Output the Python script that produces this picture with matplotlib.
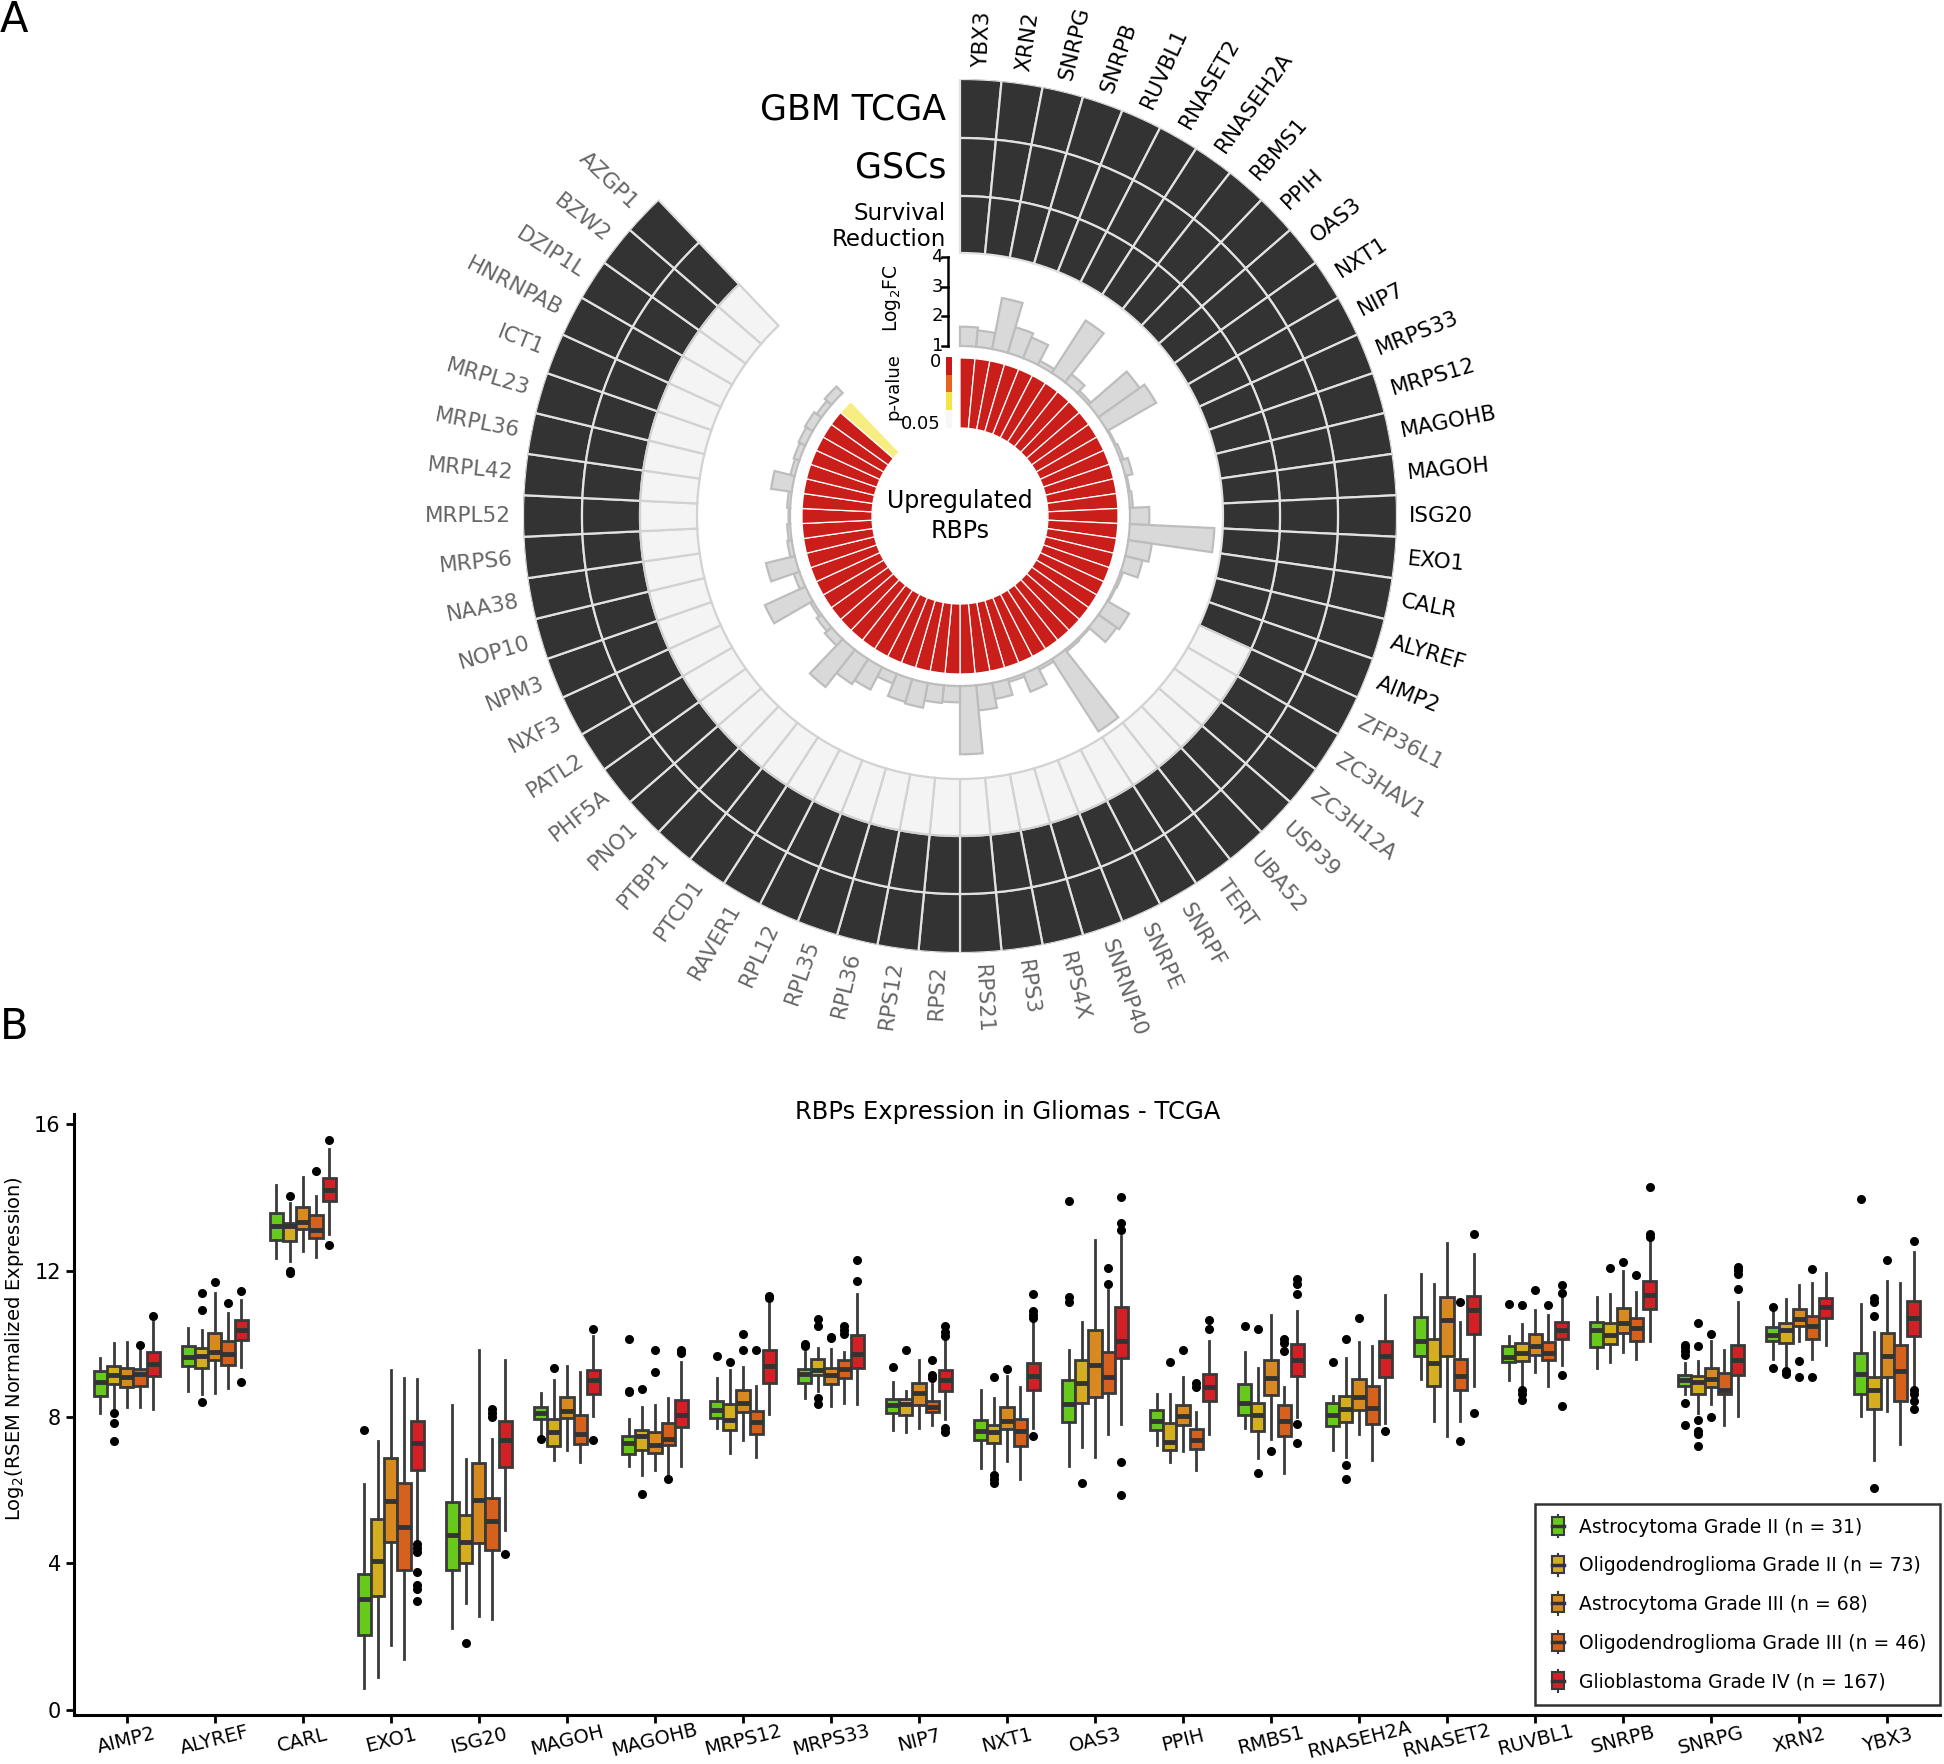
import numpy as np
import matplotlib
matplotlib.use('Agg')
import matplotlib.pyplot as plt
from matplotlib.colors import LinearSegmentedColormap, ListedColormap
from matplotlib.patches import Rectangle, Patch
from matplotlib.lines import Line2D
from matplotlib.legend_handler import HandlerBase
from matplotlib.transforms import blended_transform_factory

plt.rcParams['font.family'] = ['DejaVu Sans']

# ---------------- panel A data ----------------
ring_genes = ['YBX3', 'XRN2', 'SNRPG', 'SNRPB', 'RUVBL1', 'RNASET2', 'RNASEH2A', 'RBMS1',
              'PPIH', 'OAS3', 'NXT1', 'NIP7', 'MRPS33', 'MRPS12', 'MAGOHB', 'MAGOH',
              'ISG20', 'EXO1', 'CALR', 'ALYREF', 'AIMP2',
              'ZFP36L1', 'ZC3HAV1', 'ZC3H12A', 'USP39', 'UBA52', 'TERT', 'SNRPF', 'SNRPE',
              'SNRNP40', 'RPS4X', 'RPS3', 'RPS21', 'RPS2', 'RPS12', 'RPL36', 'RPL35', 'RPL12',
              'RAVER1', 'PTCD1', 'PTBP1', 'PNO1', 'PHF5A', 'PATL2', 'NXF3', 'NPM3', 'NOP10',
              'NAA38', 'MRPS6', 'MRPL52', 'MRPL42', 'MRPL36', 'MRPL23', 'ICT1', 'HNRNPAB',
              'DZIP1L', 'BZW2', 'AZGP1']
# 1 = survival reduction, 0 = not
survival = [1] * 21 + [0] * 37
log2fc = [1.65, 1.55, 2.75, 1.9, 1.75, 1.15, 3.1, 1.35, 1.1, 2.7, 2.9, 1.05, 1.1, 1.25,
          1.05, 1.1, 1.65, 3.85, 1.8, 1.6, 1.08, 1.05, 1.85, 1.75, 1.05, 1.08, 3.9, 1.1,
          1.65, 1.1, 1.55, 1.85, 3.3, 1.55, 1.6, 1.85, 1.8, 1.35, 1.85, 2.0, 2.6, 1.3, 1.2,
          1.1, 2.5, 1.2, 2.0, 1.15, 1.1, 1.05, 1.1, 1.7, 1.15, 1.2, 1.25, 1.3, 1.2, 1.3]
pvalues = [0.001] * 57 + [0.038]

# ---------------- panel B data ----------------
genes_b = ['AIMP2', 'ALYREF', 'CARL', 'EXO1', 'ISG20', 'MAGOH', 'MAGOHB', 'MRPS12', 'MRPS33',
           'NIP7', 'NXT1', 'OAS3', 'PPIH', 'RMBS1', 'RNASEH2A', 'RNASET2', 'RUVBL1',
           'SNRPB', 'SNRPG', 'XRN2', 'YBX3']
group_names = ['Astrocytoma Grade II (n = 31)', 'Oligodendroglioma Grade II (n = 73)',
               'Astrocytoma Grade III (n = 68)', 'Oligodendroglioma Grade III (n = 46)',
               'Glioblastoma Grade IV (n = 167)']
group_colors = ['#66c91c', '#d4ae1e', '#d88a20', '#d6611d', '#d42024']

# (whisker low, q1, median, q3, whisker high) per gene
astro2_box = [(8.12, 8.58, 8.95, 9.25, 9.62), (8.72, 9.40, 9.64, 9.93, 10.42),
              (12.35, 12.84, 13.23, 13.58, 14.33), (0.59, 2.04, 3.04, 3.71, 6.17),
              (2.23, 3.82, 4.77, 5.69, 8.33), (7.55, 7.94, 8.10, 8.28, 8.66),
              (6.66, 7.00, 7.28, 7.47, 7.94), (7.69, 7.97, 8.19, 8.45, 9.06),
              (8.51, 8.92, 9.18, 9.31, 9.78), (7.64, 8.12, 8.33, 8.49, 8.95),
              (6.61, 7.38, 7.61, 7.92, 8.73), (6.66, 7.86, 8.36, 9.00, 9.84),
              (7.25, 7.64, 7.89, 8.19, 8.64), (7.71, 8.06, 8.38, 8.89, 9.78),
              (7.10, 7.75, 8.05, 8.39, 8.58), (9.03, 9.67, 10.09, 10.74, 11.91),
              (9.01, 9.50, 9.64, 9.94, 10.22), (9.34, 9.92, 10.37, 10.61, 11.29),
              (8.62, 8.86, 9.00, 9.16, 9.48), (9.59, 10.07, 10.23, 10.45, 10.87),
              (8.03, 8.64, 9.18, 9.75, 11.09)]
astro2_fliers = [[], [], [], [7.66], [], [7.41], [10.12, 8.72, 8.68], [9.67], [10.0, 9.95],
                 [9.36], [], [13.90, 11.28, 11.13], [], [10.48], [9.50], [], [11.09], [],
                 [9.98, 9.92, 9.81, 9.70, 8.39, 7.78], [11.01, 9.33], [13.97]]

oligo2_box = [(8.25, 8.90, 9.14, 9.40, 10.03), (8.62, 9.34, 9.68, 9.90, 10.39),
              (12.26, 12.82, 13.21, 13.29, 13.86), (0.91, 3.12, 4.07, 5.22, 7.34),
              (2.93, 4.01, 4.60, 5.32, 6.86), (6.83, 7.22, 7.58, 7.94, 9.01),
              (6.41, 7.11, 7.47, 7.64, 8.27), (7.02, 7.66, 7.92, 8.36, 9.29),
              (8.70, 9.16, 9.28, 9.59, 9.89), (7.58, 8.06, 8.36, 8.49, 8.72),
              (6.58, 7.28, 7.58, 7.78, 8.53), (7.19, 8.39, 8.94, 9.57, 10.59),
              (6.77, 7.10, 7.32, 7.84, 8.62), (6.88, 7.61, 8.05, 8.39, 9.34),
              (6.91, 7.86, 8.23, 8.58, 9.61), (7.89, 8.84, 9.48, 10.14, 11.63),
              (8.81, 9.53, 9.75, 10.01, 10.54), (9.51, 10.00, 10.23, 10.56, 11.37),
              (8.10, 8.64, 8.97, 9.11, 9.53), (9.36, 10.01, 10.37, 10.56, 11.23),
              (6.82, 8.23, 8.73, 9.09, 10.33)]
oligo2_fliers = [[8.10, 7.84, 7.35], [11.40, 10.93, 8.42], [14.05, 11.98, 11.93], [], [1.84],
                 [9.34], [8.77, 5.91], [9.50], [10.67, 10.50, 8.53, 8.36], [9.83],
                 [9.09, 6.43, 6.32, 6.21], [6.21], [9.51], [10.40, 6.47], [10.12, 6.69, 6.32],
                 [], [11.06, 8.73, 8.64, 8.47], [12.07], [10.56, 9.94, 7.92, 7.61, 7.53, 7.22],
                 [9.25, 9.18], [11.26, 11.13, 10.76, 6.05]]

astro3_box = [(8.27, 8.83, 9.09, 9.33, 10.06), (8.66, 9.55, 9.79, 10.31, 11.39),
              (12.54, 13.15, 13.34, 13.73, 14.55), (1.78, 4.59, 5.72, 6.88, 9.28),
              (2.56, 4.55, 5.74, 6.74, 9.83), (7.10, 7.97, 8.17, 8.56, 9.39),
              (6.56, 7.02, 7.25, 7.58, 8.33), (7.38, 8.14, 8.39, 8.73, 9.36),
              (8.31, 8.90, 9.16, 9.34, 9.87), (7.69, 8.34, 8.66, 8.92, 9.57),
              (6.80, 7.67, 7.88, 8.27, 9.11), (6.91, 8.56, 9.42, 10.39, 12.84),
              (7.08, 7.78, 8.03, 8.33, 9.09), (7.39, 8.61, 9.06, 9.57, 10.79),
              (7.55, 8.19, 8.55, 9.05, 10.06), (7.49, 9.68, 10.65, 11.29, 12.76),
              (9.23, 9.70, 9.94, 10.28, 10.93), (9.79, 10.31, 10.56, 10.98, 11.98),
              (8.36, 8.81, 9.03, 9.34, 10.09), (10.09, 10.48, 10.68, 10.95, 11.62),
              (8.17, 9.09, 9.67, 10.31, 11.73)]
astro3_fliers = [[], [11.68], [], [], [], [], [9.82, 9.24], [10.28, 9.83], [10.20, 10.15], [],
                 [9.31], [], [9.83], [7.06], [10.72], [], [11.48], [12.23], [10.28, 7.99],
                 [9.53, 9.09], [12.30]]

oligo3_box = [(8.28, 8.86, 9.17, 9.30, 9.87), (8.80, 9.42, 9.73, 10.07, 10.84),
              (12.37, 12.88, 13.10, 13.53, 14.04), (1.39, 3.81, 4.99, 6.21, 9.06),
              (2.49, 4.37, 5.16, 5.80, 7.41), (6.77, 7.27, 7.53, 8.06, 9.23),
              (6.41, 7.25, 7.39, 7.83, 8.53), (6.91, 7.53, 7.86, 8.16, 8.86),
              (8.39, 9.06, 9.31, 9.57, 9.79), (7.77, 8.14, 8.27, 8.45, 8.90),
              (6.30, 7.22, 7.61, 7.95, 8.81), (7.53, 8.67, 9.09, 9.78, 11.46),
              (6.56, 7.13, 7.36, 7.67, 8.14), (6.47, 7.47, 7.89, 8.34, 8.81),
              (6.83, 7.80, 8.25, 8.86, 9.94), (7.89, 8.73, 9.11, 9.59, 10.59),
              (8.86, 9.55, 9.75, 10.06, 10.78), (9.59, 10.09, 10.42, 10.70, 11.43),
              (7.78, 8.62, 8.75, 9.20, 9.83), (9.59, 10.12, 10.50, 10.76, 11.65),
              (7.27, 8.45, 9.25, 9.98, 11.65)]
oligo3_fliers = [[9.96], [11.11], [14.72], [], [8.22, 8.11, 7.99], [], [6.32], [9.83],
                 [10.48, 10.37, 10.26], [9.57, 9.14, 9.06], [], [12.07, 11.63], [8.94, 8.83],
                 [10.14, 10.03, 9.81], [], [11.13, 7.34], [11.07], [11.87], [], [12.04, 9.09], []]

gbm_box = [(8.22, 9.12, 9.44, 9.79, 10.59), (9.36, 10.11, 10.37, 10.64, 11.20),
           (12.99, 13.89, 14.19, 14.54, 15.33), (4.63, 6.56, 7.30, 7.88, 9.03),
           (4.91, 6.63, 7.36, 7.88, 9.55), (8.03, 8.64, 9.00, 9.29, 10.22),
           (6.66, 7.73, 8.06, 8.47, 9.50), (8.08, 8.92, 9.39, 9.83, 11.11),
           (8.36, 9.34, 9.73, 10.23, 11.37), (7.94, 8.70, 9.00, 9.29, 10.14),
           (7.69, 8.73, 9.11, 9.48, 10.56), (7.80, 9.61, 10.09, 11.00, 12.95),
           (7.53, 8.44, 8.81, 9.18, 10.09), (8.00, 9.12, 9.57, 10.00, 10.90),
           (7.84, 9.09, 9.67, 10.09, 11.34), (8.86, 10.26, 10.93, 11.32, 12.46),
           (9.42, 10.12, 10.37, 10.61, 11.26), (10.09, 10.95, 11.34, 11.73, 12.82),
           (8.03, 9.14, 9.57, 9.98, 11.13), (9.98, 10.72, 11.00, 11.26, 11.93),
           (8.86, 10.22, 10.70, 11.17, 12.51)]
gbm_fliers = [[10.77], [11.45, 8.96], [15.57, 12.70], [4.52, 4.43, 4.31, 3.76, 3.42, 3.31, 2.98],
              [4.26], [10.40, 7.36], [9.83, 9.75], [11.32, 11.24], [12.30, 11.73],
              [10.50, 10.33, 10.22, 7.69, 7.58], [11.37, 10.89, 10.80, 10.72, 7.47],
              [14.02, 13.29, 13.12, 6.77, 5.88], [10.65, 10.40], [11.76, 11.63, 11.35, 7.80, 7.30],
              [7.61], [12.99, 8.10], [11.62, 11.40, 9.16, 8.31], [14.29, 13.01, 12.93],
              [12.10, 12.01, 11.90, 11.51], [], [12.80, 8.73, 8.62, 8.44, 8.22]]

all_boxes = [astro2_box, oligo2_box, astro3_box, oligo3_box, gbm_box]
all_fliers = [astro2_fliers, oligo2_fliers, astro3_fliers, oligo3_fliers, gbm_fliers]

# ---------------- figure ----------------
W, H = 1944, 1764
fig = plt.figure(figsize=(W / 100, H / 100), dpi=100)

# overlay in pixel coordinates for annotations
ov = fig.add_axes([0, 0, 1, 1])
ov.set_xlim(0, W)
ov.set_ylim(H, 0)
ov.axis('off')

# circular plot geometry (pixels)
cx, cy = 960, 516
R = 437
step = 360.0 / 66          # 58 genes + gap
r_red = (88, 158)
r_fc0, fc_unit = 170, 29.7
r_surv, r_gsc, r_gbm = 263, 320, 378

ax = fig.add_axes([(cx - R) / W, (H - cy - R) / H, 2 * R / W, 2 * R / H], projection='polar')
ax.set_ylim(0, R)
ax.axis('off')

n = len(ring_genes)
ang_deg = 90 - (np.arange(n) + 0.5) * step
theta = np.deg2rad(ang_deg)
wd = np.deg2rad(step)

dark, light = '#333333', '#f4f4f4'
ax.bar(theta, R - r_gbm, width=wd, bottom=r_gbm, color=dark, edgecolor='#e2e2e2', linewidth=1.6)
ax.bar(theta, r_gbm - r_gsc, width=wd, bottom=r_gsc, color=dark, edgecolor='#e2e2e2', linewidth=1.6)
surv_col = [dark if s else light for s in survival]
surv_edge = ['#e2e2e2' if s else '#d2d2d2' for s in survival]
ax.bar(theta, r_gsc - r_surv, width=wd, bottom=r_surv, color=surv_col, edgecolor=surv_edge,
       linewidth=1.6)

# log2FC bars
fc_h = (np.array(log2fc) - 1) * fc_unit
ax.bar(theta, fc_h, width=wd, bottom=r_fc0, color='#d9d9d9', edgecolor='#bdbdbd', linewidth=1.6)

# p-value ring
pcmap = LinearSegmentedColormap.from_list('pv', [(0, '#c8191b'), (0.33, '#e8651f'),
                                                 (0.66, '#f4e64a'), (1, '#ffffff')])
red_cols = [pcmap(p / 0.05) for p in pvalues]
ax.bar(theta, r_red[1] - r_red[0], width=wd, bottom=r_red[0], color=red_cols,
       edgecolor='white', linewidth=0.9)

ax.text(0, 0, 'Upregulated\nRBPs', ha='center', va='center', fontsize=17, linespacing=1.3)

for i, g in enumerate(ring_genes):
    a = (ang_deg[i] + 180) % 360 - 180
    col = 'black' if survival[i] else '#666666'
    if -90 <= a <= 90:
        ax.text(theta[i], 449, g, rotation=a, rotation_mode='anchor', ha='left', va='center',
                fontsize=15.5, color=col)
    else:
        ax.text(theta[i], 449, g, rotation=a + 180, rotation_mode='anchor', ha='right',
                va='center', fontsize=15.5, color=col)

# ring titles
ov.text(946, 109, 'GBM TCGA', ha='right', va='center', fontsize=25)
ov.text(946, 167, 'GSCs', ha='right', va='center', fontsize=25)
ov.text(946, 213, 'Survival', ha='right', va='center', fontsize=16.5)
ov.text(946, 239, 'Reduction', ha='right', va='center', fontsize=16.5)

# log2FC scale
x_ax = 948
fc_ticks = [1, 2, 3, 4]
fc_y = [cy - (r_fc0 + (v - 1) * fc_unit) for v in fc_ticks]
ov.plot([x_ax, x_ax], [fc_y[0], fc_y[-1]], color='black', lw=1.8)
for v, yy in zip(fc_ticks, fc_y):
    ov.plot([x_ax - 6, x_ax], [yy, yy], color='black', lw=1.8)
    ov.text(x_ax - 5, yy, str(v), ha='right', va='center', fontsize=13)
ov.text(892, 298, 'Log$_2$FC', rotation=90, ha='center', va='center', fontsize=13.5)

# p-value colour key
cb_cols = [pcmap(0.0), pcmap(0.33), pcmap(0.66), '#f7f7f7']
cax = fig.add_axes([946 / W, (H - 428) / H, 6 / W, 71 / H])
cax.imshow(np.arange(4)[:, None], cmap=ListedColormap(cb_cols), aspect='auto')
cax.axis('off')
ov.text(941, 362, '0', ha='right', va='center', fontsize=13)
ov.text(941, 424, '0.05', ha='right', va='center', fontsize=13)
ov.text(893, 387, 'p-value', rotation=90, ha='center', va='center', fontsize=13)

ov.text(0, 20, 'A', ha='left', va='center', fontsize=30)
ov.text(0, 1027, 'B', ha='left', va='center', fontsize=30)

# ---------------- panel B ----------------
axb = fig.add_axes([74 / W, 49 / H, 1866 / W, 601 / H])
offsets = [-0.3, -0.15, 0.0, 0.15, 0.3]
xpos = np.arange(len(genes_b))
for g in range(5):
    stats = []
    for j, gene in enumerate(genes_b):
        lo, q1, med, q3, hi = all_boxes[g][j]
        stats.append(dict(med=med, q1=q1, q3=q3, whislo=lo, whishi=hi,
                          fliers=all_fliers[g][j], label=gene))
    axb.bxp(stats, positions=xpos + offsets[g], widths=0.15, patch_artist=True,
            showcaps=False, manage_ticks=False,
            boxprops=dict(facecolor=group_colors[g], edgecolor='#3a3a3a', linewidth=2),
            medianprops=dict(color='#333333', linewidth=3.5),
            whiskerprops=dict(color='#3a3a3a', linewidth=2),
            flierprops=dict(marker='o', markerfacecolor='black', markeredgecolor='black',
                            markersize=5.5))

axb.set_xlim(-0.6, 20.6)
axb.set_ylim(-0.14, 16.28)
axb.set_yticks([0, 4, 8, 12, 16])
axb.set_xticks(xpos)
axb.set_xticklabels([])
axb.tick_params(axis='y', labelsize=15, length=6, width=2)
axb.tick_params(axis='x', length=6, width=2)
lab_tr = blended_transform_factory(axb.transData, axb.transAxes)
for x, gene in zip(xpos, genes_b):
    axb.text(x, -0.042, gene, transform=lab_tr, rotation=14, rotation_mode='anchor',
             ha='center', va='center', fontsize=14)
for s in ['top', 'right']:
    axb.spines[s].set_visible(False)
for s in ['left', 'bottom']:
    axb.spines[s].set_linewidth(2.2)
axb.set_ylabel('Log$_2$(RSEM Normalized Expression)', fontsize=14)
axb.yaxis.set_label_coords(-0.0255, 0.61)
fig.text(1008 / W, 1 - 1112 / H, 'RBPs Expression in Gliomas - TCGA', ha='center',
         va='center', fontsize=17.5)


class BoxHandler(HandlerBase):
    def create_artists(self, legend, orig_handle, xd, yd, w, h, fontsize, trans):
        bw = h * 0.9
        x0 = xd + (w - bw) / 2
        xc = xd + w / 2
        line = Line2D([xc, xc], [yd - h * 0.35, yd + h * 1.35], color='#3a3a3a', lw=1.5,
                      transform=trans)
        rect = Rectangle((x0, yd - h * 0.15), bw, h * 1.3, facecolor=orig_handle.get_facecolor(),
                         edgecolor='#3a3a3a', lw=1.5, transform=trans)
        med = Line2D([x0, x0 + bw], [yd + h / 2, yd + h / 2], color='#333333', lw=2.5,
                     transform=trans)
        return [line, rect, med]


handles = [Patch(facecolor=c) for c in group_colors]
leg = axb.legend(handles, group_names, loc='lower right', bbox_to_anchor=(1.0, 0.016),
                 borderaxespad=0, fontsize=13.5, frameon=True, fancybox=False, edgecolor='black',
                 handler_map={Patch: BoxHandler()}, handlelength=1.0, handletextpad=0.6,
                 labelspacing=1.05, borderpad=0.75)
leg.get_frame().set_linewidth(1.8)

fig.savefig('out.png', dpi=100)
